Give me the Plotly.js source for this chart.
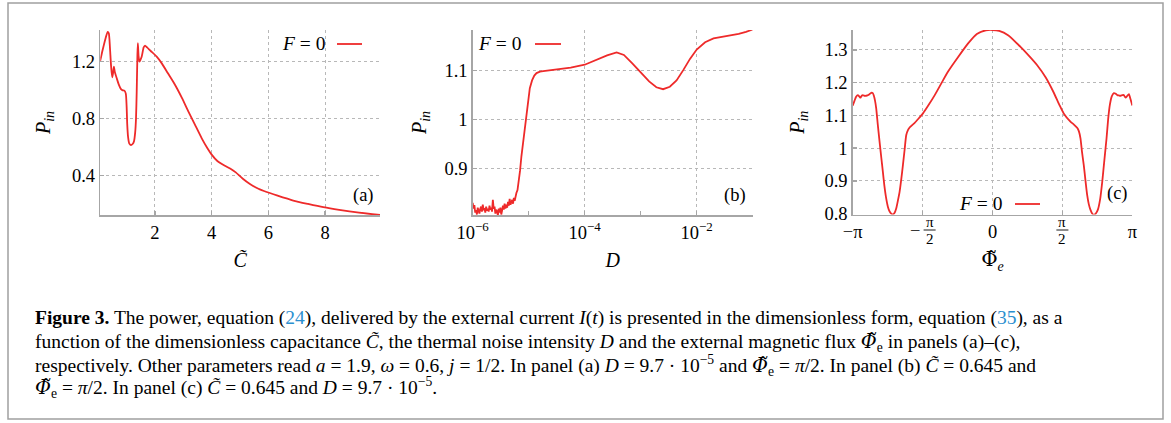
<!DOCTYPE html>
<html>
<head>
<meta charset="utf-8">
<script src="https://cdn.plot.ly/plotly-3.0.1.min.js"></script>
<style>html,body{margin:0;padding:0;background:#fff;}</style>
</head>
<body>
<div id="fig" style="width:1171px;height:423px;"></div>
<script>
// Panel (a): input power versus dimensionless capacitance C~
const capC = [0.06, 0.15, 0.25, 0.33, 0.37, 0.41, 0.45, 0.49, 0.52, 0.55, 0.58, 0.65, 0.72, 0.80, 0.86, 0.92, 0.97, 1.00, 1.02, 1.05, 1.09, 1.15, 1.21, 1.26, 1.30, 1.33, 1.355, 1.38, 1.395, 1.42, 1.45, 1.53, 1.60, 1.65, 1.72, 1.85, 2.06, 2.24, 2.45, 2.71, 2.95, 3.18, 3.40, 3.65, 3.85, 4.0, 4.2, 4.45, 4.65, 4.85, 5.1, 5.35, 5.65, 5.94, 6.3, 6.88, 7.4, 7.94, 8.5, 9.2, 9.94];
const powerA = [1.20, 1.28, 1.36, 1.41, 1.40, 1.30, 1.17, 1.09, 1.12, 1.165, 1.13, 1.083, 1.04, 1.006, 0.998, 0.996, 0.975, 0.88, 0.76, 0.67, 0.625, 0.613, 0.62, 0.64, 0.70, 0.80, 0.99, 1.25, 1.33, 1.24, 1.20, 1.235, 1.30, 1.313, 1.30, 1.275, 1.235, 1.188, 1.12, 1.036, 0.945, 0.848, 0.76, 0.66, 0.59, 0.545, 0.50, 0.468, 0.447, 0.42, 0.375, 0.338, 0.305, 0.282, 0.258, 0.222, 0.198, 0.175, 0.156, 0.136, 0.12];

// Panel (b): input power versus thermal noise intensity D (decimal exponents of D)
const noiseExp = [-6.00, -5.985, -5.97, -5.955, -5.94, -5.925, -5.91, -5.895, -5.88, -5.865, -5.85, -5.835, -5.82, -5.805, -5.79, -5.775, -5.76, -5.745, -5.73, -5.715, -5.70, -5.685, -5.67, -5.655, -5.64, -5.625, -5.61, -5.595, -5.58, -5.565, -5.55, -5.535, -5.52, -5.505, -5.49, -5.475, -5.46, -5.445, -5.43, -5.415, -5.40, -5.385, -5.37, -5.355, -5.34, -5.325, -5.31, -5.295, -5.28, -5.265, -5.25, -5.235, -5.22, -5.20, -5.18, -5.155, -5.13, -5.10, -5.07, -5.04, -5.01, -4.98, -4.94, -4.90, -4.86, -4.80, -4.74, -4.50, -4.25, -4.00, -3.80, -3.60, -3.43, -3.30, -3.15, -3.00, -2.85, -2.72, -2.60, -2.48, -2.36, -2.24, -2.12, -2.00, -1.85, -1.70, -1.55, -1.40, -1.25, -1.12, -1.00];
const powerB = [0.830, 0.818, 0.825, 0.810, 0.815, 0.806, 0.820, 0.812, 0.808, 0.818, 0.822, 0.812, 0.826, 0.815, 0.819, 0.810, 0.822, 0.814, 0.818, 0.812, 0.824, 0.816, 0.820, 0.812, 0.836, 0.818, 0.822, 0.808, 0.816, 0.812, 0.804, 0.818, 0.810, 0.820, 0.806, 0.814, 0.824, 0.816, 0.828, 0.818, 0.826, 0.820, 0.832, 0.824, 0.838, 0.826, 0.830, 0.836, 0.828, 0.840, 0.834, 0.846, 0.850, 0.856, 0.872, 0.895, 0.925, 0.952, 0.985, 1.018, 1.045, 1.064, 1.080, 1.090, 1.095, 1.098, 1.099, 1.102, 1.106, 1.112, 1.121, 1.131, 1.137, 1.132, 1.115, 1.096, 1.078, 1.066, 1.062, 1.067, 1.080, 1.101, 1.124, 1.143, 1.158, 1.166, 1.169, 1.171, 1.175, 1.179, 1.184];
const noiseD = noiseExp.map(e => Math.pow(10, e));

// Panel (c): input power versus external magnetic flux Phi~_e
const fluxPhi = [-3.1416, -3.10, -3.065, -3.027, -2.995, -2.966, -2.94, -2.914, -2.88, -2.84, -2.78, -2.727, -2.69, -2.666, -2.64, -2.614, -2.58, -2.538, -2.50, -2.464, -2.43, -2.389, -2.35, -2.312, -2.27, -2.238, -2.20, -2.164, -2.125, -2.087, -2.05, -2.013, -1.975, -1.938, -1.90, -1.862, -1.80, -1.749, -1.65, -1.562, -1.43, -1.298, -1.15, -0.998, -0.80, -0.548, -0.352, -0.15, 0, 0.15, 0.35, 0.624, 0.80, 1.00, 1.20, 1.375, 1.50, 1.60, 1.751, 1.83, 1.902, 1.94, 1.977, 2.01, 2.051, 2.09, 2.127, 2.165, 2.202, 2.24, 2.276, 2.32, 2.366, 2.42, 2.466, 2.515, 2.563, 2.60, 2.637, 2.68, 2.727, 2.77, 2.804, 2.84, 2.878, 2.92, 2.95, 2.99, 3.03, 3.065, 3.10, 3.1416];
const powerC = [1.130, 1.145, 1.157, 1.162, 1.158, 1.154, 1.160, 1.162, 1.160, 1.160, 1.163, 1.169, 1.168, 1.160, 1.145, 1.122, 1.075, 1.020, 0.972, 0.928, 0.885, 0.846, 0.820, 0.806, 0.799, 0.797, 0.802, 0.815, 0.840, 0.867, 0.905, 0.948, 0.995, 1.040, 1.055, 1.063, 1.071, 1.077, 1.092, 1.106, 1.133, 1.162, 1.198, 1.234, 1.273, 1.320, 1.349, 1.360, 1.361, 1.358, 1.345, 1.310, 1.285, 1.254, 1.215, 1.170, 1.133, 1.106, 1.081, 1.072, 1.062, 1.052, 1.030, 0.990, 0.948, 0.900, 0.857, 0.828, 0.811, 0.800, 0.796, 0.800, 0.811, 0.845, 0.897, 0.965, 1.030, 1.090, 1.132, 1.158, 1.168, 1.166, 1.162, 1.161, 1.160, 1.162, 1.162, 1.154, 1.160, 1.165, 1.150, 1.130];

// Tick labels
const ticksA = {x: [2, 4, 6, 8], y: [0.4, 0.8, 1.2]};
const ticksB = {x: [1e-6, 1e-4, 1e-2], xtext: ['10<sup>−6</sup>', '10<sup>−4</sup>', '10<sup>−2</sup>'], xminor: [1e-5, 1e-3, 1e-1], y: [0.9, 1, 1.1]};
const ticksC = {x: [-Math.PI, -Math.PI / 2, 0, Math.PI / 2, Math.PI], xtext: ['−π', '', '0', '', 'π'], y: [0.8, 0.9, 1, 1.1, 1.2, 1.3], ytext: ['0.8', '0.9', '1', '1.1', '1.2', '1.3']};
const seriesName = '<i>F</i> = 0';

const W = 1171, H = 423;
const px = v => v / W;
const py = v => 1 - v / H;

const RED = '#ee2a2a';
const SERIF = '"Liberation Serif", "Times New Roman", serif';
const MARKS = '"DejaVu Serif", serif';
const AXIS_GREY = '#a6a6a6';
const PHI = '<span style="font-family:' + "'DejaVu Serif'" + '">Φ̃</span>';

function axisBase(extra) {
  return Object.assign({
    showline: true, linecolor: AXIS_GREY, linewidth: 1.5,
    ticks: 'inside', ticklen: 4, tickwidth: 1.5, tickcolor: AXIS_GREY,
    showgrid: true, gridcolor: '#b8b8b8', griddash: 'dot', gridwidth: 1,
    zeroline: false, mirror: false, fixedrange: true,
    tickfont: {family: SERIF, size: 18.5, color: '#000'}
  }, extra);
}
const titleFont = {family: SERIF, size: 20, color: '#000'};

const traces = [
  {x: capC, y: powerA, xaxis: 'x', yaxis: 'y', type: 'scatter', mode: 'lines', name: 'F = 0',
   line: {color: RED, width: 1.8, shape: 'spline', smoothing: 0.6}, showlegend: false},
  {x: noiseD, y: powerB, xaxis: 'x2', yaxis: 'y2', type: 'scatter', mode: 'lines', name: 'F = 0',
   line: {color: RED, width: 1.8}, showlegend: false},
  {x: fluxPhi, y: powerC, xaxis: 'x3', yaxis: 'y3', type: 'scatter', mode: 'lines', name: 'F = 0',
   line: {color: RED, width: 1.8, shape: 'spline', smoothing: 0.6}, showlegend: false}
];

const yTitle = '<i>P</i><sub><i>in</i></sub>';

const layout = {
  width: W, height: H,
  margin: {l: 0, r: 0, t: 0, b: 0},
  paper_bgcolor: '#fff', plot_bgcolor: '#fff',
  showlegend: false,
  font: {family: SERIF, color: '#000'},
  xaxis: axisBase({domain: [px(100.3), px(380)], range: [0.07, 9.94], tickvals: ticksA.x, anchor: 'y',
    title: {text: '<i>C̃</i>', font: titleFont, standoff: 11}}),
  yaxis: axisBase({domain: [py(215), py(30)], range: [0.12, 1.423], tickvals: ticksA.y, anchor: 'x',
    title: {text: yTitle, font: titleFont, standoff: 16}}),
  xaxis2: axisBase({domain: [px(472.7), px(752.7)], type: 'log', range: [-6, -1], tickvals: ticksB.x, ticktext: ticksB.xtext, anchor: 'y2',
    minor: {tickvals: ticksB.xminor, ticks: 'inside', ticklen: 4, tickcolor: AXIS_GREY, tickwidth: 1.5, showgrid: false},
    title: {text: '<i>D</i>', font: titleFont, standoff: 11}}),
  yaxis2: axisBase({domain: [py(215), py(30)], range: [0.805, 1.183], tickvals: ticksB.y, ticktext: ['0.9', '1', '1.1'], anchor: 'x2',
    title: {text: yTitle, font: titleFont, standoff: 12}}),
  xaxis3: axisBase({domain: [px(852.7), px(1132.3)], range: [-Math.PI, Math.PI], tickvals: ticksC.x, ticktext: ticksC.xtext, anchor: 'y3',
    title: {text: PHI + '<sub><i>e</i></sub>', font: titleFont, standoff: 11}}),
  yaxis3: axisBase({domain: [py(214.5), py(30)], range: [0.797, 1.361], tickvals: ticksC.y, ticktext: ticksC.ytext, anchor: 'x3',
    title: {text: yTitle, font: titleFont, standoff: 14}}),
  shapes: [
    // figure frame
    {type: 'rect', xref: 'paper', yref: 'paper', x0: px(8), x1: px(1163), y0: py(419), y1: py(3),
     line: {color: '#a0a0a0', width: 1.5}},
    // legend line samples
    {type: 'line', xref: 'paper', yref: 'paper', x0: px(337), x1: px(362), y0: py(44), y1: py(44), line: {color: RED, width: 1.8}},
    {type: 'line', xref: 'paper', yref: 'paper', x0: px(535), x1: px(561), y0: py(44), y1: py(44), line: {color: RED, width: 1.8}},
    {type: 'line', xref: 'paper', yref: 'paper', x0: px(1015), x1: px(1040), y0: py(204), y1: py(204), line: {color: RED, width: 1.8}},
    // fraction bars of the ±π/2 tick labels
    {type: 'line', xref: 'x3', yref: 'paper', x0: -Math.PI / 2 + 1 / 44.37, x1: -Math.PI / 2 + 13 / 44.37, y0: py(230), y1: py(230), line: {color: '#000', width: 0.9}},
    {type: 'line', xref: 'x3', yref: 'paper', x0: Math.PI / 2 - 6 / 44.37, x1: Math.PI / 2 + 6 / 44.37, y0: py(230), y1: py(230), line: {color: '#000', width: 0.9}}
  ],
  annotations: []
};

const ann = layout.annotations;
function note(text, x, y, opts) {
  ann.push(Object.assign({text: text, x: px(x), y: py(y), xref: 'paper', yref: 'paper', showarrow: false,
    xanchor: 'center', yanchor: 'middle', font: {family: SERIF, size: 19.5, color: '#000'}}, opts || {}));
}

// legend texts and panel labels
note(seriesName, 303, 43);
note(seriesName, 500, 43);
note(seriesName, 980, 203);
note('(a)', 363, 195, {font: {family: SERIF, size: 18.5, color: '#000'}});
note('(b)', 735, 195, {font: {family: SERIF, size: 18.5, color: '#000'}});
note('(c)', 1117, 193, {font: {family: SERIF, size: 18.5, color: '#000'}});

// stacked ±π/2 tick labels
function frac(xval, shift) {
  ann.push({text: 'π', xref: 'x3', yref: 'paper', x: xval, y: py(222), xshift: shift, showarrow: false,
    xanchor: 'center', yanchor: 'middle', font: {family: SERIF, size: 15, color: '#000'}});
  ann.push({text: '2', xref: 'x3', yref: 'paper', x: xval, y: py(238.5), xshift: shift, showarrow: false,
    xanchor: 'center', yanchor: 'middle', font: {family: SERIF, size: 15, color: '#000'}});
}
frac(-Math.PI / 2, 7);
ann.push({text: '−', xref: 'x3', yref: 'paper', x: -Math.PI / 2, y: py(231), xshift: -8, showarrow: false,
  xanchor: 'center', yanchor: 'middle', font: {family: SERIF, size: 18.5, color: '#000'}});
frac(Math.PI / 2, 0);

// caption
const LINK = '<span style="color:#2b8fcf">';
const PHI_I = '<span style="font-family:' + "'DejaVu Serif'" + ';font-style:italic">Φ̃</span>';
const captionLines = [
  '<b>Figure 3.</b> The power, equation (' + LINK + '24</span>), delivered by the external current <i>I</i>(<i>t</i>) is presented in the dimensionless form, equation (' + LINK + '35</span>), as a',
  'function of the dimensionless capacitance <i>C̃</i>, the thermal noise intensity <i>D</i> and the external magnetic flux ' + PHI_I + '<sub>e</sub> in panels (a)–(c),',
  'respectively. Other parameters read <i>a</i> = 1.9, <i>ω</i> = 0.6, <i>j</i> = 1/2. In panel (a) <i>D</i> = 9.7 · 10<sup>−5</sup> and ' + PHI_I + '<sub>e</sub> = <i>π</i>/2. In panel (b) <i>C̃</i> = 0.645 and',
  PHI_I + '<sub>e</sub> = <i>π</i>/2. In panel (c) <i>C̃</i> = 0.645 and <i>D</i> = 9.7 · 10<sup>−5</sup>.'
];
const captionY = [318, 342, 365, 387];
captionLines.forEach((t, i) => note(t, 33, captionY[i], {xanchor: 'left', font: {family: SERIF, size: 19.5, color: '#000'}}));

Plotly.newPlot('fig', traces, layout, {staticPlot: true, displayModeBar: false});
</script>
</body>
</html>
